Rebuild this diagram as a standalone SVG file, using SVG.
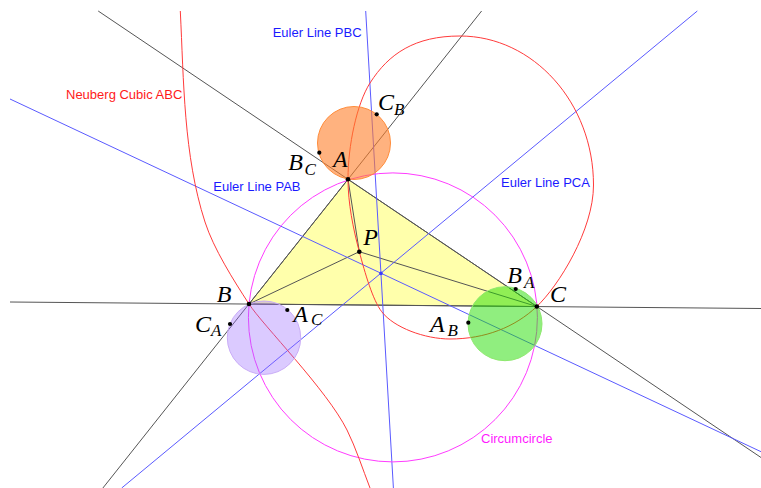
<svg xmlns="http://www.w3.org/2000/svg" width="761" height="488" viewBox="0 0 761 488">
<style>
.ln{stroke:#555;stroke-width:1;fill:none}
.eu{stroke:#5a5aff;stroke-width:1;fill:none}
.nc{stroke:#ff3b3b;stroke-width:1;fill:none}
.cc{stroke:#ff3cff;stroke-width:1;fill:none}
.pt{fill:#000}
.m{font-family:"Liberation Serif","Times New Roman",serif;font-style:italic;font-size:24px;fill:#000}
.s{font-family:"Liberation Serif","Times New Roman",serif;font-style:italic;font-size:17px;fill:#000}
.lb{font-family:"Liberation Sans",Arial,sans-serif;font-size:13px}
</style>
<rect width="761" height="488" fill="#fff"/>
<g id="triangle">
<polygon points="348,179.3 249,304 536.8,306.5" fill="#ffff00" fill-opacity="0.33" stroke="#555" stroke-width="1"/>
</g>
<g id="connectors">
<line class="ln" x1="481.6" y1="11" x2="102.9" y2="488"/>
<line class="ln" x1="98.2" y1="11" x2="761" y2="457.5"/>
<line class="ln" x1="10" y1="302" x2="761" y2="308.5"/>
<line class="ln" x1="359.3" y1="251.7" x2="348" y2="179.3"/>
<line class="ln" x1="359.3" y1="251.7" x2="249" y2="304"/>
<line class="ln" x1="359.3" y1="251.7" x2="536.8" y2="306.5"/>
<line class="eu" x1="365.7" y1="11" x2="393.4" y2="488"/>
<line class="eu" x1="10" y1="99" x2="761" y2="451.7"/>
<line class="eu" x1="697.3" y1="11" x2="121.7" y2="488"/>
<circle class="cc" cx="392.9" cy="317.4" r="144.5"/>
<path class="nc" d="M180.3,11 C183.8,81 183.5,155.4 205,222 C213.6,248.7 233.7,280.5 249,304 C262.6,325 326.9,389.8 347,430 C355.9,447.9 362.8,469.4 370,488"/>
<path class="nc" d="M348,179 C348,146 356.6,104.1 370,83 C388.8,53.5 415,36 460,36 C533.4,36 593.5,103 593.5,185 C593.5,230 558.6,285.8 536.8,306.5 C515,327.2 485,339 450,339 C425,339 393.8,327.6 381.7,311.7 C372.6,299.8 365,273 359.3,251.7 C353.1,228.5 348,203 348,179 Z"/>
</g>
<g id="circle-A">
<circle cx="354" cy="143" r="36.5" fill="#ff7f2a" fill-opacity="0.6" stroke="#ff8c3a" stroke-width="1"/>
</g>
<g id="circle-B">
<circle cx="264" cy="337.7" r="36.7" fill="#9966ff" fill-opacity="0.35" stroke="#c9acf7" stroke-width="1"/>
</g>
<g id="circle-C">
<circle cx="505" cy="323.7" r="37" fill="#22dd00" fill-opacity="0.5" stroke="#8ee86e" stroke-width="1"/>
</g>
<g id="concurrence">
<circle cx="381" cy="273.4" r="1.8" fill="#3a3aff"/>
</g>
<g id="point-A"><circle class="pt" cx="348" cy="179.3" r="2.3"/><text class="m" x="333" y="166.7">A</text></g>
<g id="point-B"><circle class="pt" cx="249" cy="304" r="2.3"/><text class="m" x="216.7" y="301.7">B</text></g>
<g id="point-C"><circle class="pt" cx="536.8" cy="306.5" r="2.3"/><text class="m" x="550" y="302.3">C</text></g>
<g id="point-P"><circle class="pt" cx="359.3" cy="251.7" r="2.3"/><text class="m" x="363.3" y="245">P</text></g>
<g id="point-CB"><circle class="pt" cx="376.7" cy="114.3" r="2.1"/><text class="m" x="378" y="110">C</text><text class="s" x="394" y="115">B</text></g>
<g id="point-BC"><circle class="pt" cx="319.3" cy="152.7" r="2.1"/><text class="m" x="288.3" y="170">B</text><text class="s" x="304.5" y="175">C</text></g>
<g id="point-CA"><circle class="pt" cx="230" cy="324" r="2.1"/><text class="m" x="195" y="331.7">C</text><text class="s" x="211" y="335.7">A</text></g>
<g id="point-AC"><circle class="pt" cx="287.3" cy="310" r="2.1"/><text class="m" x="293.3" y="321.7">A</text><text class="s" x="311" y="325">C</text></g>
<g id="point-BA"><circle class="pt" cx="515.7" cy="289" r="2.1"/><text class="m" x="507.3" y="282.7">B</text><text class="s" x="524" y="287.7">A</text></g>
<g id="point-AB"><circle class="pt" cx="468.3" cy="322.7" r="2.1"/><text class="m" x="430" y="331.7">A</text><text class="s" x="447.5" y="336">B</text></g>
<g id="labels">
<text class="lb" x="66" y="99" fill="#ff1a1a">Neuberg Cubic ABC</text>
<text class="lb" x="272.7" y="37.3" fill="#1a1aff">Euler Line PBC</text>
<text class="lb" x="213.3" y="190.7" fill="#1a1aff">Euler Line PAB</text>
<text class="lb" x="501" y="186.7" fill="#1a1aff">Euler Line PCA</text>
<text class="lb" x="481" y="443.3" fill="#ff1aff">Circumcircle</text>
</g>
</svg>
